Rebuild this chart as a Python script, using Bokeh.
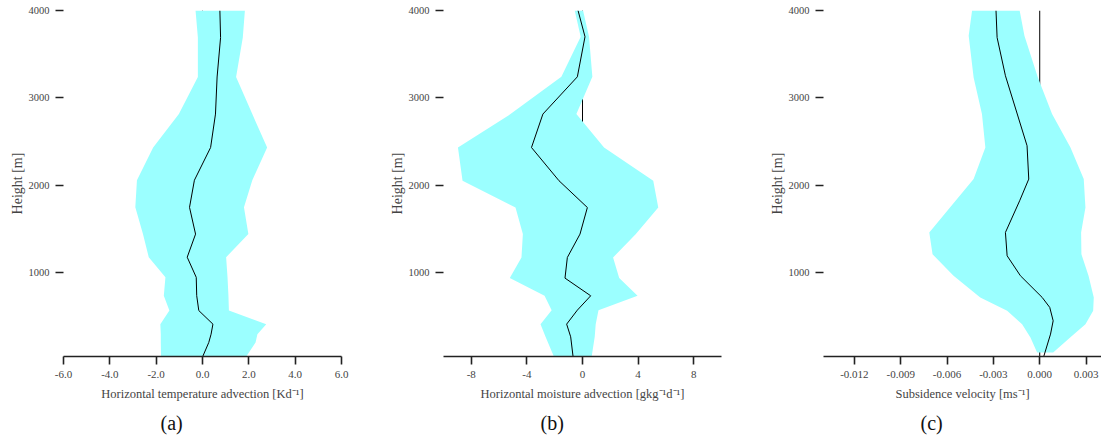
from bokeh.plotting import figure
from bokeh.layouts import row
from bokeh.models import Range1d, FixedTicker, PrintfTickFormatter, Title
from bokeh.embed import file_html
from bokeh.resources import INLINE

# ---- Panel (a): horizontal temperature advection [K/d]
h_a = [45, 205, 300, 415, 570, 740, 950, 1180, 1444, 1750, 2060, 2434, 2816, 3240, 3690, 4000]
mean_a = [0.01, 0.27, 0.37, 0.45, -0.16, -0.25, -0.27, -0.66, -0.30, -0.56, -0.35, 0.35, 0.56, 0.63, 0.78, 0.75]
lo_a = [-1.79, -1.80, -1.80, -1.82, -1.43, -1.67, -1.60, -2.32, -2.57, -2.90, -2.83, -2.13, -1.02, -0.20, -0.20, -0.30]
hi_a = [1.89, 2.29, 2.37, 2.75, 1.14, 1.12, 1.08, 1.02, 1.98, 1.79, 2.15, 2.79, 2.15, 1.45, 1.74, 1.83]
ticks_a = [-6, -4, -2, 0, 2, 4, 6]

# ---- Panel (b): horizontal moisture advection [g/kg/d]
h_b = [45, 270, 415, 575, 739, 941, 1177, 1444, 1748, 2054, 2434, 2816, 3242, 3700, 4000]
mean_b = [-0.68, -0.85, -1.14, -0.37, 0.59, -1.26, -1.09, -0.18, 0.35, -1.69, -3.67, -2.85, -0.37, 0.18, -0.32]
lo_b = [-2.06, -2.66, -3.02, -2.22, -2.73, -5.23, -4.39, -4.29, -4.82, -8.63, -8.96, -5.18, -1.52, -0.13, -0.56]
hi_b = [0.66, 0.88, 0.95, 1.15, 3.96, 2.64, 2.20, 3.84, 5.45, 5.09, 1.55, -0.44, 0.71, 0.47, 0.04]
ticks_b = [-8, -4, 0, 4, 8]

# ---- Panel (c): subsidence velocity [m/s]
h_cm = [45, 301, 453, 606, 720, 968, 1196, 1463, 1825, 2073, 2454, 3254, 3691, 4000]
mean_c = [0.00026, 0.0007, 0.00087, 0.00065, 0.00016, -0.00125, -0.00211, -0.00222, -0.0013, -0.00071, -0.00082, -0.00222, -0.00276, -0.00283]
h_cb = [90, 263, 415, 567, 720, 968, 1215, 1463, 1748, 2073, 2434, 2816, 3234, 3711, 4000]
lo_c = [-0.00017, -0.0006, -0.00114, -0.00211, -0.00385, -0.00558, -0.00694, -0.00715, -0.00581, -0.00428, -0.00352, -0.00374, -0.00428, -0.0046, -0.00438]
hi_c = [0.00087, 0.00197, 0.00296, 0.00346, 0.0035, 0.00316, 0.0027, 0.00268, 0.00296, 0.00285, 0.00199, 0.0008, -0.00012, -0.00099, -0.0013]
ticks_c = [-0.012, -0.009, -0.006, -0.003, 0.0, 0.003]

y_ticks = [1000, 2000, 3000, 4000]
y_min, y_max = 45, 4000

BAND = "#9bffff"
AX = "#222222"
FONT = "Liberation Serif"


def make_panel(xr, xticks, fmt, xlabel, caption, h_band, lo, hi, h_mean, mean, width, right):
    p = figure(width=width, height=444, output_backend="svg", toolbar_location=None,
               x_range=Range1d(*xr), y_range=Range1d(y_min, y_max),
               min_border_left=63, min_border_right=right, min_border_top=10,
               min_border_bottom=88)
    p.outline_line_color = None
    p.grid.visible = False
    p.background_fill_color = "white"
    p.border_fill_color = "white"

    # zero line (drawn under the band)
    p.line([0, 0], [y_min, y_max], line_color="black", line_width=1)
    p.harea(x1=lo, x2=hi, y=h_band, fill_color=BAND, fill_alpha=1.0)
    p.line(mean, h_mean, line_color="black", line_width=1)

    xa = p.xaxis[0]
    xa.ticker = FixedTicker(ticks=xticks)
    xa.formatter = PrintfTickFormatter(format=fmt)
    xa.axis_label = xlabel
    xa.axis_label_text_font = FONT
    xa.axis_label_text_font_style = "normal"
    xa.axis_label_text_font_size = "12.5px"
    xa.axis_label_standoff = 6
    xa.major_label_text_font = FONT
    xa.major_label_text_font_size = "11px"
    xa.major_label_standoff = 6
    xa.axis_line_color = AX
    xa.axis_line_width = 1.6
    xa.major_tick_line_color = AX
    xa.major_tick_line_width = 1.6
    xa.major_tick_out = 8
    xa.major_tick_in = 0
    xa.minor_tick_line_color = None

    ya = p.yaxis[0]
    ya.ticker = FixedTicker(ticks=y_ticks)
    ya.axis_label = "Height [m]"
    ya.axis_label_text_font = FONT
    ya.axis_label_text_font_style = "normal"
    ya.axis_label_text_font_size = "14px"
    ya.axis_label_standoff = 1
    ya.major_label_text_font = FONT
    ya.major_label_text_font_size = "10.5px"
    ya.major_label_standoff = 6
    ya.axis_line_color = None
    ya.major_tick_line_color = AX
    ya.major_tick_line_width = 1.6
    ya.major_tick_out = 8
    ya.major_tick_in = 0
    ya.minor_tick_line_color = None

    t = Title(text=caption, align="left", offset=97, text_font=FONT,
              text_font_size="20px", text_font_style="normal", text_color="#111111",
              standoff=12)
    p.add_layout(t, "below")
    return p


pa = make_panel((-6, 6), ticks_a, "%.1f", "Horizontal temperature advection [Kd⁻¹]", "(a)",
                h_a, lo_a, hi_a, h_a, mean_a, 380, 39)
pb = make_panel((-10, 10), ticks_b, "%d", "Horizontal moisture advection [gkg⁻¹d⁻¹]", "(b)",
                h_b, lo_b, hi_b, h_b, mean_b, 380, 39)
pc = make_panel((-0.014, 0.004), ticks_c, "%.3f", "Subsidence velocity [ms⁻¹]", "(c)",
                h_cb, lo_c, hi_c, h_cm, mean_c, 341, 0)

layout = row(pa, pb, pc)
open("out.html", "w").write(file_html(layout, INLINE))
